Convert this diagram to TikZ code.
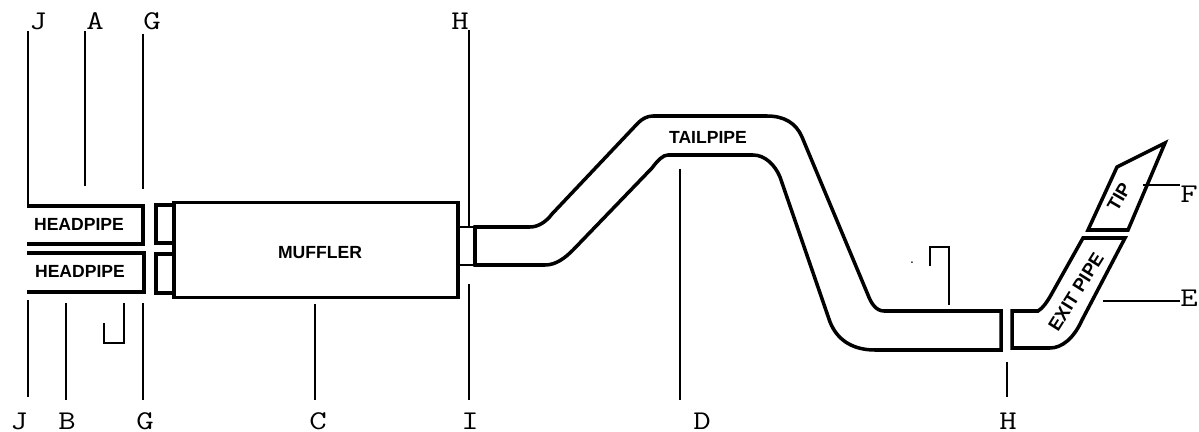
\documentclass[tikz,border=0pt]{standalone}
\usepackage{fontspec}
\setmainfont{Liberation Sans}
\usetikzlibrary{positioning}
\tikzstyle{pipe} = [line width=2pt, line join=miter]
\tikzstyle{box} = [rectangle, draw=black, line width=2pt, inner sep=0pt]
\tikzstyle{pipetext} = [font=\fontsize{10}{12}\selectfont\bfseries, inner sep=0pt]
\tikzstyle{slanttext} = [font=\fontsize{10.5}{13}\selectfont\bfseries, inner sep=0pt]
\tikzstyle{letter} = [font=\fontsize{15.4}{18}\selectfont\ttfamily, inner sep=0pt, xscale=1.25, transform shape]
\tikzstyle{leader} = [line width=1pt]

\begin{document}
\begin{tikzpicture}[x=0.02cm, y=-0.02cm]
    \useasboundingbox (0,0) rectangle (1199,432);

    \node (muffler) [box, minimum width=5.68cm, minimum height=1.9cm] at (316,250) {};
    \node (stub_up) [box, minimum width=0.36cm, minimum height=0.76cm] at (165,224) {};
    \node (stub_low) [box, minimum width=0.36cm, minimum height=0.78cm] at (165,273.5) {};
    \node (stub_right) [box, line width=1.2pt, minimum width=0.34cm, minimum height=0.76cm] at (466,246) {};

    % pipes
    \draw [pipe] (27,206) -- (143,206) -- (143,244) -- (27,244);
    \draw [pipe] (27,253) -- (144,253) -- (144,292) -- (27,292);
    \draw [pipe] (475,227) -- (475,265) -- (545,265) .. controls (556,265) and (565,258) .. (573,250)
        -- (652,168) .. controls (658,160) and (663,155) .. (668,155) -- (753,155)
        .. controls (765,155) and (775,165) .. (780,177) -- (830,322)
        .. controls (838,342) and (855,350) .. (875,350) -- (1001,350) -- (1001,311) -- (884,311)
        .. controls (876,311) and (871,303) .. (868,295) -- (802,137)
        .. controls (796,123) and (784,116) .. (767,116) -- (653,116)
        .. controls (647,116) and (642,119) .. (638,123) -- (552,214)
        .. controls (546,222) and (538,227) .. (530,227) -- cycle;
    \draw [pipe] (1012,311) -- (1038,311) .. controls (1043,308) and (1047,302) .. (1051,295)
        -- (1083,238) -- (1125,238) -- (1082,320)
        .. controls (1074,338) and (1062,348) .. (1050,348) -- (1012,348) -- cycle;
    \draw [pipe] (1088,230) -- (1117,167) -- (1165,143) -- (1128,230) -- cycle;

    % texts
    \node (head_up) [pipetext] at (79,224) {HEADPIPE};
    \node (head_low) [pipetext] at (80,271) {HEADPIPE};
    \node (muffler_text) [pipetext] at (320,253) {MUFFLER};
    \node (tail_text) [pipetext] at (708,137) {TAILPIPE};
    \node (exit_text) [slanttext, rotate=58] at (1076,292) {EXIT PIPE};
    \node (tip_text) [slanttext, rotate=60] at (1119,197) {TIP};
    \node (dot) [font=\fontsize{8}{10}\selectfont, inner sep=0pt] at (912,263) {.};

    % letters
    \node (l_j_up) [letter] at (38,21) {J};
    \node (l_a) [letter] at (95,21) {A};
    \node (l_g_up) [letter] at (152,21) {G};
    \node (l_h_up) [letter] at (460,21) {H};
    \node (l_j_low) [letter] at (19,421) {J};
    \node (l_b) [letter] at (67,421) {B};
    \node (l_g_low) [letter] at (145,421) {G};
    \node (l_c) [letter] at (318,421) {C};
    \node (l_i) [letter] at (470,421) {I};
    \node (l_d) [letter] at (702,421) {D};
    \node (l_h_low) [letter] at (1008,421) {H};
    \node (l_e) [letter] at (1189,298) {E};
    \node (l_f) [letter] at (1189,194) {F};

    % leader ends
    \coordinate (j_up_a) at (28,31);
    \coordinate (j_up_b) at (28,206);
    \coordinate (a_a) at (85,31);
    \coordinate (a_b) at (85,186);
    \coordinate (g_up_a) at (143,34);
    \coordinate (g_up_b) at (143,189);
    \coordinate (h_up_a) at (469,30);
    \coordinate (h_up_b) at (469,226);
    \coordinate (j_low_a) at (28,300);
    \coordinate (j_low_b) at (28,397);
    \coordinate (b_a) at (66,303);
    \coordinate (b_b) at (66,400);
    \coordinate (g_low_a) at (143,303);
    \coordinate (g_low_b) at (143,400);
    \coordinate (c_a) at (315,304);
    \coordinate (c_b) at (315,400);
    \coordinate (i_a) at (469,284);
    \coordinate (i_b) at (469,400);
    \coordinate (d_a) at (680,169);
    \coordinate (d_b) at (680,400);
    \coordinate (h_low_a) at (1007,362);
    \coordinate (h_low_b) at (1007,397);
    \coordinate (e_a) at (1103,301);
    \coordinate (e_b) at (1180,301);
    \coordinate (f_a) at (1143,185);
    \coordinate (f_b) at (1180,185);

    \draw [leader] (j_up_a) -- (j_up_b);
    \draw [leader] (a_a) -- (a_b);
    \draw [leader] (g_up_a) -- (g_up_b);
    \draw [leader] (h_up_a) -- (h_up_b);
    \draw [leader] (j_low_a) -- (j_low_b);
    \draw [leader] (b_a) -- (b_b);
    \draw [leader] (g_low_a) -- (g_low_b);
    \draw [leader] (c_a) -- (c_b);
    \draw [leader] (i_a) -- (i_b);
    \draw [leader] (d_a) -- (d_b);
    \draw [leader] (h_low_a) -- (h_low_b);
    \draw [leader] (e_a) -- (e_b);
    \draw [leader] (f_a) -- (f_b);

    % brackets
    \coordinate (br_low_a) at (124,303);
    \coordinate (br_low_b) at (124,343);
    \coordinate (br_low_c) at (104,343);
    \coordinate (br_low_d) at (104,323);
    \coordinate (br_up_a) at (949,305);
    \coordinate (br_up_b) at (949,247);
    \coordinate (br_up_c) at (930,247);
    \coordinate (br_up_d) at (930,266);
    \draw [leader] (br_low_a) -- (br_low_b) -- (br_low_c) -- (br_low_d);
    \draw [leader] (br_up_a) -- (br_up_b) -- (br_up_c) -- (br_up_d);

\end{tikzpicture}
\end{document}
